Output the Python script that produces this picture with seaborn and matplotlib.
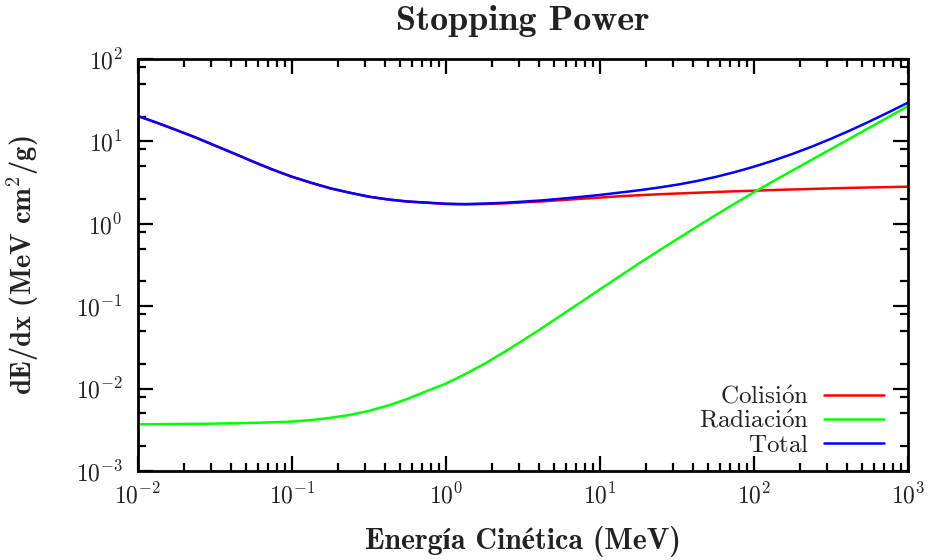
import numpy as np
import pandas as pd
import matplotlib
matplotlib.use("Agg")
import matplotlib.pyplot as plt
from matplotlib.ticker import LogLocator, NullFormatter
from matplotlib.lines import Line2D
import seaborn as sns

# ---- data (MeV, MeV cm^2/g) ----
energy = [0.01, 0.01334, 0.01778, 0.02371, 0.03162, 0.04217, 0.05623, 0.07499,
          0.1, 0.1334, 0.1778, 0.2371, 0.3162, 0.4217, 0.5623, 0.7499,
          1.0, 1.334, 1.778, 2.371, 3.162, 4.217, 5.623, 7.499,
          10.0, 13.34, 17.78, 23.71, 31.62, 42.17, 56.23, 74.99,
          100.0, 133.4, 177.8, 237.1, 316.2, 421.7, 562.3, 749.9, 1000.0]
collision = [20.28, 16.79, 13.71, 11.14, 8.89, 7.11, 5.65, 4.54,
             3.72, 3.14, 2.69, 2.38, 2.13, 1.97, 1.86, 1.80,
             1.74, 1.72, 1.74, 1.77, 1.82, 1.87, 1.94, 2.01,
             2.08, 2.16, 2.22, 2.28, 2.33, 2.38, 2.43, 2.48,
             2.52, 2.57, 2.61, 2.65, 2.69, 2.73, 2.76, 2.79, 2.82]
radiation = [0.00369, 0.00370, 0.00372, 0.00373, 0.00376, 0.00379, 0.00384, 0.00390,
             0.00398, 0.00415, 0.00442, 0.00479, 0.00537, 0.00624, 0.00750, 0.00933,
             0.01150, 0.01500, 0.02000, 0.02750, 0.03850, 0.05450, 0.07800, 0.1115,
             0.1603, 0.2291, 0.3273, 0.4624, 0.6501, 0.9120, 1.271, 1.758,
             2.415, 3.281, 4.436, 5.984, 8.072, 10.89, 14.69, 19.82, 26.73]
series_names = ["Colisión", "Radiación", "Total"]
legend_labels = [r"$\mathrm{Colisi\acute{o}n}$", r"$\mathrm{Radiaci\acute{o}n}$",
                 r"$\mathrm{Total}$"]
series_colors = ["#ff0000", "#00ff00", "#0000ff"]
title = "Stopping Power"
xlabel = "Energía Cinética (MeV)"
ylabel = r"dE/dx (MeV cm$^2$/g)"

total = [c + r for c, r in zip(collision, radiation)]
df = pd.concat([
    pd.DataFrame({"E": energy, "S": collision, "serie": series_names[0]}),
    pd.DataFrame({"E": energy, "S": radiation, "serie": series_names[1]}),
    pd.DataFrame({"E": energy, "S": total, "serie": series_names[2]}),
], ignore_index=True)

sns.set_theme(style="ticks")
plt.rcParams["font.family"] = ["cmr10", "STIXGeneral", "DejaVu Serif"]
plt.rcParams["mathtext.fontset"] = "cm"
plt.rcParams["axes.formatter.use_mathtext"] = True
plt.rcParams["axes.unicode_minus"] = False

fig = plt.figure(figsize=(9.29, 5.6), dpi=100)
ax = fig.add_axes([138 / 929, 1 - 471 / 560, (908 - 138) / 929, (471 - 59) / 560])

palette = dict(zip(series_names, series_colors))
sns.lineplot(data=df, x="E", y="S", hue="serie", palette=palette, ax=ax,
             estimator=None, sort=False, linewidth=1.8, legend=False)

ax.set_xscale("log")
ax.set_yscale("log")
ax.set_xlim(1e-2, 1e3)
ax.set_ylim(1e-3, 1e2)

ax.xaxis.set_major_locator(LogLocator(base=10, numticks=10))
ax.xaxis.set_minor_locator(LogLocator(base=10, subs=np.arange(2, 10), numticks=20))
ax.yaxis.set_major_locator(LogLocator(base=10, numticks=10))
ax.yaxis.set_minor_locator(LogLocator(base=10, subs=[2, 5, 8], numticks=20))
ax.xaxis.set_minor_formatter(NullFormatter())
ax.yaxis.set_minor_formatter(NullFormatter())

for s in ax.spines.values():
    s.set_linewidth(2.0)
    s.set_color("black")
    s.set_visible(True)
ax.tick_params(which="both", direction="in", top=True, right=True, color="black",
               width=1.6)
ax.tick_params(which="major", length=10.5, labelsize=17, pad=9, labelcolor="#222222")
ax.tick_params(which="minor", length=5.5)
ax.tick_params(axis="y", which="major", pad=11)

tfont = {"family": ["cmb10", "STIXGeneral", "DejaVu Serif"], "weight": "bold"}
ax.set_title(title, fontsize=26, fontdict=tfont, pad=21, color="#222222")
ax.set_xlabel(xlabel, fontsize=21.5, fontdict=tfont, labelpad=12, color="#222222")
ax.set_ylabel(ylabel, fontsize=20.5, fontdict=tfont, labelpad=25, color="#222222")

handles = [Line2D([0], [0], color=c, lw=1.8) for c in series_colors]
leg = ax.legend(handles, legend_labels, loc="lower right", frameon=False,
                markerfirst=False, fontsize=18, handlelength=2.4,
                handletextpad=0.6, labelspacing=0.05, borderpad=0,
                borderaxespad=0, bbox_to_anchor=((884 - 138) / 770, 0.035))
for t in leg.get_texts():
    t.set_color("#222222")

fig.savefig("out.png", dpi=100)
